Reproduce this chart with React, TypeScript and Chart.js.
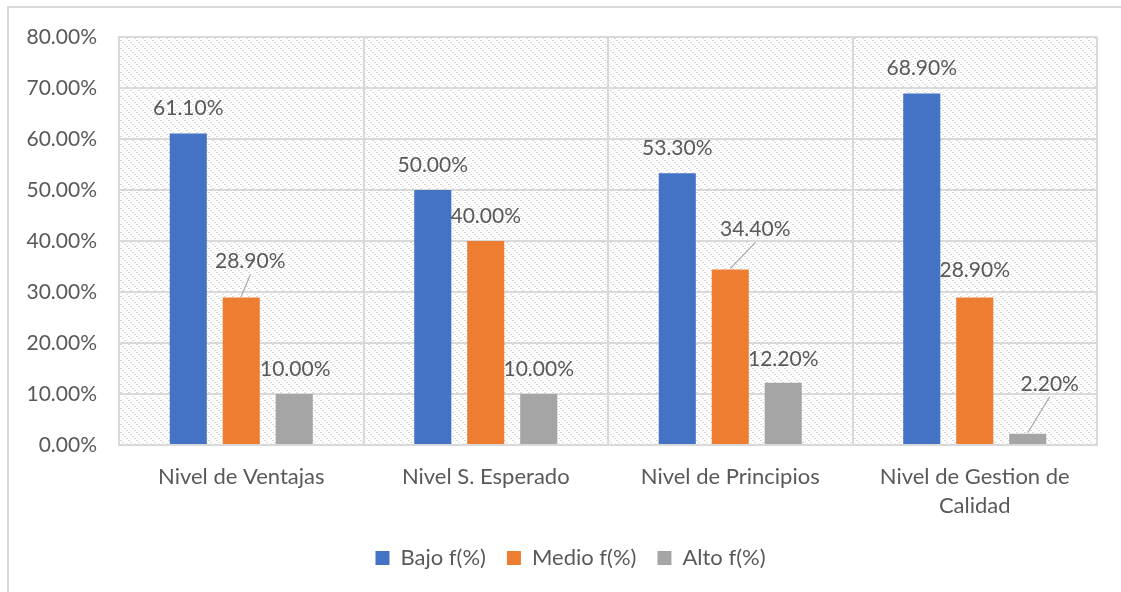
import React, { useEffect, useRef } from "react";
import { Chart, registerables } from "chart.js";

Chart.register(...registerables);

const categories: (string | string[])[] = [
  "Nivel de Ventajas",
  "Nivel S. Esperado",
  "Nivel de Principios",
  ["Nivel de Gestion de", "Calidad"],
];
const seriesNames = ["Bajo f(%)", "Medio f(%)", "Alto f(%)"];
const bajo = [61.1, 50.0, 53.3, 68.9];
const medio = [28.9, 40.0, 34.4, 28.9];
const alto = [10.0, 10.0, 12.2, 2.2];
const yTicks = [0, 10, 20, 30, 40, 50, 60, 70, 80];

const COLORS = ["#4472C4", "#ED7D31", "#A5A5A5"];
const FONT = "Lato";
const TEXT = "#595959";
const GRID = "#d9d9d9";

// label placement (dx, dy from bar top centre) and whether a leader line is drawn
const LABEL_OFFSETS: [number, number, boolean][][] = [
  [[0, -25, false], [0, -25, false], [0, -25, false], [0, -25, false]],
  [[9, -36, true], [0, -25, false], [25, -40, true], [0, -27, false]],
  [[1, -25, false], [0, -25, false], [0, -24, false], [22, -50, true]],
];

function makePattern(): CanvasPattern | string {
  const c = document.createElement("canvas");
  c.width = 8;
  c.height = 8;
  const g = c.getContext("2d");
  if (!g) return "#fff";
  g.fillStyle = "#ffffff";
  g.fillRect(0, 0, 8, 8);
  g.fillStyle = "#d6d6d6";
  for (let k = 0; k < 8; k += 2) {
    g.fillRect(k, k, 1, 1);
    g.fillRect((k + 1) % 8, k, 1, 1);
  }
  g.fillStyle = "#e8e8e8";
  for (let k = 1; k < 8; k += 2) {
    g.fillRect((k + 4) % 8, k, 1, 1);
  }
  const p = g.createPattern(c, "repeat");
  return p || "#fff";
}

const bgPlugin = {
  id: "bgPlugin",
  afterLayout(chart: any) {
    const lg = chart.legend;
    if (lg) {
      lg.left += 17;
      lg.right += 17;
    }
  },
  beforeDraw(chart: any) {
    const { ctx, chartArea } = chart;
    ctx.save();
    ctx.fillStyle = "#ffffff";
    ctx.fillRect(0, 0, chart.width, chart.height);
    ctx.fillStyle = makePattern();
    ctx.fillRect(chartArea.left, chartArea.top, chartArea.right - chartArea.left, chartArea.bottom - chartArea.top);
    // outer chart border
    ctx.strokeStyle = GRID;
    ctx.lineWidth = 2;
    ctx.beginPath();
    ctx.moveTo(8, chart.height + 2);
    ctx.lineTo(8, 7);
    ctx.lineTo(chart.width + 2, 7);
    ctx.stroke();
    ctx.restore();
  },
};

const labelPlugin = {
  id: "labelPlugin",
  afterDatasetsDraw(chart: any) {
    const { ctx } = chart;
    ctx.save();
    ctx.font = `21px ${FONT}`;
    ctx.fillStyle = TEXT;
    ctx.textAlign = "center";
    ctx.textBaseline = "middle";
    chart.data.datasets.forEach((ds: any, di: number) => {
      const meta = chart.getDatasetMeta(di);
      meta.data.forEach((bar: any, i: number) => {
        const [dx, dy, leader] = LABEL_OFFSETS[di][i];
        const x = bar.x + dx;
        const y = bar.y + dy;
        if (leader) {
          ctx.strokeStyle = "#a6a6a6";
          ctx.lineWidth = 1.2;
          ctx.beginPath();
          ctx.moveTo(bar.x, bar.y - 1);
          ctx.lineTo(x, y + 13);
          ctx.stroke();
        }
        ctx.fillText(ds.data[i].toFixed(2) + "%", x, y);
      });
    });
    ctx.restore();
  },
};

export default function App() {
  const ref = useRef<HTMLCanvasElement>(null);
  useEffect(() => {
    if (!ref.current) return;
    const chart = new Chart(ref.current, {
      type: "bar",
      data: {
        labels: categories,
        datasets: [bajo, medio, alto].map((d, i) => ({
          label: seriesNames[i],
          data: d,
          backgroundColor: COLORS[i],
          borderWidth: 0,
          categoryPercentage: 0.65,
          barPercentage: 0.7,
        })),
      },
      options: {
        animation: false,
        responsive: true,
        maintainAspectRatio: false,
        layout: { padding: { left: 10, right: 24, top: 37, bottom: 13 } },
        plugins: {
          tooltip: { enabled: false },
          legend: {
            position: "bottom",
            labels: {
              font: { family: FONT, size: 22 },
              color: TEXT,
              boxWidth: 14,
              boxHeight: 14,
              padding: 21,
            },
          },
        },
        scales: {
          x: {
            grid: { color: GRID, lineWidth: 2, drawTicks: false, offset: true },
            border: { color: GRID, width: 2 },
            ticks: {
              font: { family: FONT, size: 22, lineHeight: 1.32 },
              color: TEXT,
              padding: 17,
              maxRotation: 0,
              autoSkip: false,
            },
            afterFit(scale: any) {
              scale.height = 81;
            },
          },
          y: {
            min: 0,
            max: 80,
            afterBuildTicks(scale: any) {
              scale.ticks = yTicks.map((v) => ({ value: v }));
            },
            grid: { color: GRID, lineWidth: 2, drawTicks: false },
            border: { color: GRID, width: 2 },
            ticks: {
              font: { family: FONT, size: 21 },
              color: TEXT,
              padding: 22,
              callback: (v: any) => Number(v).toFixed(2) + "%",
            },
            afterFit(scale: any) {
              scale.width = 109;
            },
          },
        },
      },
      plugins: [bgPlugin, labelPlugin],
    });
    return () => chart.destroy();
  }, []);
  return (
    <div style={{ position: "absolute", left: 0, top: 0, width: 1121, height: 592 }}>
      <canvas ref={ref} />
    </div>
  );
}
